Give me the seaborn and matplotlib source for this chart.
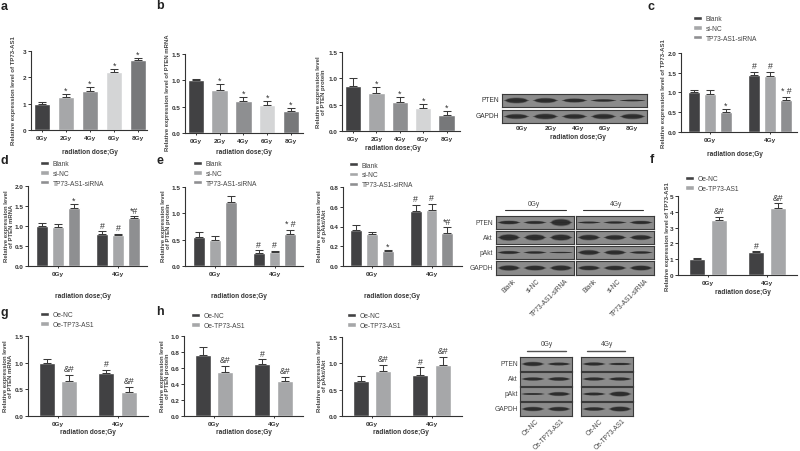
import numpy as np
import pandas as pd
import matplotlib
matplotlib.use("Agg")
import matplotlib.pyplot as plt
from matplotlib.patches import Ellipse
import seaborn as sns

W, H = 800, 452
sns.set_theme(style="ticks")
plt.rcParams['font.family'] = ['Liberation Sans', 'DejaVu Sans']

# ---- data ----
doses5 = ["0Gy", "2Gy", "4Gy", "6Gy", "8Gy"]
doses2 = ["0Gy", "4Gy"]
groups3 = ["Blank", "si-NC", "TP73-AS1-siRNA"]
groups2 = ["Oe-NC", "Oe-TP73-AS1"]

a_vals = [1.0, 1.25, 1.5, 2.2, 2.65]
a_errs = [0.05, 0.1, 0.14, 0.13, 0.1]
a_marks = ["", "*", "*", "*", "*"]
b1_vals = [1.0, 0.82, 0.6, 0.53, 0.41]
b1_errs = [0.03, 0.11, 0.09, 0.08, 0.07]
b2_vals = [0.86, 0.72, 0.55, 0.43, 0.31]
b2_errs = [0.15, 0.12, 0.1, 0.08, 0.07]
b_marks = ["", "*", "*", "*", "*"]

c_vals = [1.0, 0.97, 0.5, 1.45, 1.42, 0.8]
c_errs = [0.06, 0.09, 0.07, 0.07, 0.1, 0.08]
c_marks = ["", "", "*", "#", "#", "* #"]
d_vals = [1.0, 0.97, 1.45, 0.8, 0.78, 1.19]
d_errs = [0.08, 0.08, 0.11, 0.07, 0.02, 0.05]
d_marks = ["", "", "*", "#", "#", "*#"]
e1_vals = [0.56, 0.49, 1.22, 0.25, 0.26, 0.6]
e1_errs = [0.08, 0.08, 0.1, 0.05, 0.03, 0.09]
e1_marks = ["", "", "", "#", "#", "* #"]
e2_vals = [0.36, 0.32, 0.15, 0.56, 0.57, 0.33]
e2_errs = [0.06, 0.02, 0.01, 0.06, 0.06, 0.06]
e2_marks = ["", "", "*", "#", "#", "*#"]

f_vals = [1.0, 3.45, 1.45, 4.25]
f_errs = [0.05, 0.25, 0.05, 0.28]
g_vals = [1.0, 0.65, 0.8, 0.45]
g_errs = [0.07, 0.12, 0.06, 0.1]
h1_vals = [0.76, 0.55, 0.65, 0.44]
h1_errs = [0.1, 0.08, 0.06, 0.05]
h2_vals = [0.66, 0.85, 0.78, 0.97]
h2_errs = [0.1, 0.12, 0.145, 0.15]
oe_marks = ["", "&#", "#", "&#"]

a_ticks = [0, 1, 2, 3]
t15 = [0.0, 0.5, 1.0, 1.5]
t20 = [0.0, 0.5, 1.0, 1.5, 2.0]
t08 = [0.0, 0.2, 0.4, 0.6, 0.8]
t10 = [0.0, 0.2, 0.4, 0.6, 0.8, 1.0]
t5 = [0, 1, 2, 3, 4, 5]

pal5 = ["#414143", "#a6a7a9", "#8e8f91", "#d4d5d6", "#77787a"]
pal3 = ["#414143", "#a6a7a9", "#8e8f91"]
pal2 = ["#414143", "#a6a7a9"]

# blot band thickness per row, per lane
b_blot = {"PTEN": [.36, .32, .26, .16, .1], "GAPDH": [.32, .36, .32, .34, .34]}
e_blot = {"PTEN": [.24, .2, .46, .12, .15, .22], "Akt": [.42, .4, .4, .36, .32, .32],
          "pAkt": [.2, .16, .07, .32, .3, .16], "GAPDH": [.32, .3, .32, .28, .28, .3]}
h_blot = {"PTEN": [.26, .18, .2, .14], "Akt": [.2, .22, .2, .2],
          "pAkt": [.1, .24, .18, .3], "GAPDH": [.26, .26, .22, .3]}

TXT = "#333333"
fig = plt.figure(figsize=(W / 100, H / 100), dpi=100, facecolor="white")


def ftext(x, y, s, **kw):
    kw.setdefault("ha", "center")
    kw.setdefault("va", "center")
    kw.setdefault("color", TXT)
    fig.text(x / W, 1 - y / H, s, **kw)


def px_axes(x0, x1, ybot, ytop):
    return fig.add_axes([x0 / W, 1 - ybot / H, (x1 - x0) / W, (ybot - ytop) / H])


def panel(box, c0, step, cats, vals, errs, marks, ticks, ylim, ylab, ylab_xy, xlab_xy,
          hues=None, pal=None, width=.7, gap=0, capsize=2.7, legend_xy=None, fmt="%.1f"):
    ax = px_axes(*box)
    if hues is None:
        df = pd.DataFrame({"x": cats, "y": vals})
        sns.barplot(df, x="x", y="y", hue="x", order=cats, palette=pal, width=width,
                    saturation=1, errorbar=None, legend=False, ax=ax)
    else:
        df = pd.DataFrame({"x": np.repeat(cats, len(hues)), "h": hues * len(cats), "y": vals})
        sns.barplot(df, x="x", y="y", hue="h", order=cats, hue_order=hues, palette=pal,
                    width=width, gap=gap, saturation=1, errorbar=None, ax=ax)
    bars = sorted((b for c in ax.containers for b in c), key=lambda p: p.get_x())
    xs = [p.get_x() + p.get_width() / 2 for p in bars]
    ys = [p.get_height() for p in bars]
    ax.errorbar(xs, ys, yerr=[np.zeros(len(errs)), errs], fmt="none", ecolor="#3a3a3a",
                elinewidth=.75, capsize=capsize, capthick=.75, clip_on=False)
    for x, y, e, m in zip(xs, ys, errs, marks):
        if m:
            ax.annotate(m, (x, y + e), xytext=(0, 1.2 if m != "*" else -.5), textcoords="offset points",
                        ha="center", va="bottom", fontsize=6.3, color=TXT, annotation_clip=False)
    ax.set_xlim((box[0] - c0) / step, (box[1] - c0) / step)
    ax.set_ylim(ylim)
    ax.set_yticks(ticks)
    ax.set_yticklabels([fmt % t for t in ticks])
    ax.set_xlabel("")
    ax.set_ylabel("")
    sns.despine(ax=ax)
    for s in ("left", "bottom"):
        ax.spines[s].set_linewidth(.8)
        ax.spines[s].set_color("#333333")
    ax.tick_params(axis="y", length=2.2, width=.7, pad=1, labelsize=4.6, color="#333333", labelcolor=TXT)
    ax.tick_params(axis="x", length=1.5, width=.7, pad=2.2, labelsize=4.6, color="#333333", labelcolor=TXT)
    for t in ax.get_xticklabels() + ax.get_yticklabels():
        t.set_fontweight("bold")
    ax.patch.set_alpha(0)
    ftext(ylab_xy[0], ylab_xy[1], ylab, rotation=90, fontsize=4.3, fontweight="bold",
          linespacing=1.2, color="#444444")
    ftext(xlab_xy[0], xlab_xy[1], "radiation dose;Gy", fontsize=4.7, fontweight="bold")
    if legend_xy is not None:
        sns.move_legend(ax, "upper left", bbox_to_anchor=(legend_xy[0] / W, 1 - legend_xy[1] / H),
                        bbox_transform=fig.transFigure, frameon=False, title=None, fontsize=4.8,
                        handlelength=1.4, handleheight=.6, handletextpad=.5, labelspacing=.42,
                        borderpad=0, borderaxespad=0, labelcolor="#444444")
    return ax


def blot(box, rows_px, table, row_order):
    """Each row is a framed gel strip; each band is drawn from its thickness."""
    for (yt, yb), name in zip(rows_px, row_order):
        vals = table[name]
        ax = px_axes(box[0], box[1], yb, yt)
        ax.set_facecolor("#8b8b8b")
        ax.set_xlim(-.5, len(vals) - .5)
        ax.set_ylim(-.5, .5)
        ax.set_xticks([])
        ax.set_yticks([])
        for s in ax.spines.values():
            s.set_linewidth(.8)
            s.set_color("#3a3a3a")
        for i, v in enumerate(vals):
            ax.add_patch(Ellipse((i, 0), .9, .1, facecolor="#333333", edgecolor="none", alpha=.8))
            ax.add_patch(Ellipse((i, 0), .8, v * 1.3, facecolor="#2a2a2a", edgecolor="none", alpha=.35))
            ax.add_patch(Ellipse((i, 0), .72, v, facecolor="#2a2a2a", edgecolor="none", alpha=.9))


# ---- panels a, b ----
panel((31, 147, 131, 52), 42, 24, doses5, a_vals, a_errs, a_marks, a_ticks, (0, 3),
      "Relative expression level of TP73-AS1", (14, 91), (90, 152), pal=pal5, fmt="%d", capsize=3.2)
panel((185, 303, 134, 55), 196, 23.7, doses5, b1_vals, b1_errs, b_marks, t15, (0, 1.5),
      "Relative expression level of PTEN mRNA", (168, 93), (244, 152), pal=pal5, capsize=3.2)
panel((342, 460, 132, 52.7), 353, 23.4, doses5, b2_vals, b2_errs, b_marks, t15, (0, 1.5),
      "Relative expression level\nof PTEN protein", (321, 92), (393, 148), pal=pal5, capsize=3.2)

blot((502, 647), [(95, 108), (111, 124)], b_blot, ["PTEN", "GAPDH"])
for name, y in (("PTEN", 101), ("GAPDH", 117)):
    ftext(499, y, name, ha="right", fontsize=4.8)
for name, x in zip(doses5, (522, 551, 578, 605, 632)):
    ftext(x, 128.5, name, fontsize=4.6, fontweight="bold")
ftext(578, 137.5, "radiation dose;Gy", fontsize=4.7, fontweight="bold")

# ---- panels c, d, e ----
panel((681, 797, 133, 53.7), 710, 60, doses2, c_vals, c_errs, c_marks, t20, (0, 2),
      "Relative expression level of TP73-AS1", (663, 94), (735, 155), hues=groups3, pal=pal3,
      width=.8, gap=.25, legend_xy=(693, 16))
panel((28, 147, 267, 187), 58, 60, doses2, d_vals, d_errs, d_marks, t20, (0, 2),
      "Relative expression level\nof PTEN mRNA", (9, 226), (83, 297), hues=groups3, pal=pal3,
      width=.8, gap=.25, legend_xy=(40, 161))
panel((185, 303, 267, 188), 215, 59.5, doses2, e1_vals, e1_errs, e1_marks, t15, (0, 1.5),
      "Relative expression level\nof PTEN protein", (166, 226), (239, 297), hues=groups3, pal=pal3,
      width=.8, gap=.25, legend_xy=(193, 161))
panel((343, 462, 267, 188), 372, 59.5, doses2, e2_vals, e2_errs, e2_marks, t08, (0, .8),
      "Relative expression level\nof pAkt/Akt", (322, 226), (392, 297), hues=groups3, pal=pal3,
      width=.8, gap=.25, legend_xy=(349, 162.5))

e_rows = [(217, 230), (232, 245), (247, 260), (262, 276)]
e_order = ["PTEN", "Akt", "pAkt", "GAPDH"]
blot((496, 574), e_rows, {k: v[:3] for k, v in e_blot.items()}, e_order)
blot((576, 654), e_rows, {k: v[3:] for k, v in e_blot.items()}, e_order)
for name, (yt, yb) in zip(e_order, e_rows):
    ftext(493, (yt + yb) / 2, name, ha="right", fontsize=4.8, color="#444444")
ftext(534, 204, "0Gy", fontsize=4.8, color="#444444")
ftext(616, 204, "4Gy", fontsize=4.8, color="#444444")
fig.add_artist(plt.Line2D([505 / W, 566 / W], [1 - 211 / H] * 2, color="#333333", lw=.8))
fig.add_artist(plt.Line2D([583 / W, 643 / W], [1 - 211 / H] * 2, color="#333333", lw=.8))
for name, x in zip(groups3 + groups3, (512, 537, 565, 593, 618, 645)):
    ftext(x, 278, name, rotation=45, ha="right", va="top", rotation_mode="anchor", fontsize=4.7, color="#444444")

# ---- panels f, g, h ----
panel((678, 797, 276, 197), 708, 59, doses2, f_vals, f_errs, oe_marks, t5, (0, 5),
      "Relative expression level of TP73-AS1", (667, 237), (743, 293), hues=groups2, pal=pal2,
      width=.75, gap=.27, capsize=3, legend_xy=(685, 176), fmt="%d")
panel((28, 148, 417, 337), 58, 59.5, doses2, g_vals, g_errs, oe_marks, t15, (0, 1.5),
      "Relative expression level\nof PTEN mRNA", (8, 376), (88, 433), hues=groups2, pal=pal2,
      width=.75, gap=.27, capsize=3, legend_xy=(40, 312))
panel((184, 303, 417, 337), 214, 59.5, doses2, h1_vals, h1_errs, oe_marks, t10, (0, 1),
      "Relative expression level\nof PTEN protein", (165, 376), (244, 433), hues=groups2, pal=pal2,
      width=.75, gap=.27, capsize=3, legend_xy=(191, 313))
panel((342, 462, 417, 338), 372, 59.5, doses2, h2_vals, h2_errs, oe_marks, t15, (0, 1.5),
      "Relative expression level\nof pAkt/Akt", (322, 376), (401, 433), hues=groups2, pal=pal2,
      width=.75, gap=.27, capsize=3, legend_xy=(347, 313))

h_rows = [(358, 372), (373, 387), (388, 402), (403, 417)]
blot((520, 572), h_rows, {k: v[:2] for k, v in h_blot.items()}, e_order)
blot((581, 633), h_rows, {k: v[2:] for k, v in h_blot.items()}, e_order)
for name, (yt, yb) in zip(e_order, h_rows):
    ftext(518, (yt + yb) / 2, name, ha="right", fontsize=4.8, color="#444444")
ftext(547, 345, "0Gy", fontsize=4.8, color="#444444")
ftext(607, 345, "4Gy", fontsize=4.8, color="#444444")
fig.add_artist(plt.Line2D([527 / W, 566 / W], [1 - 352 / H] * 2, color="#555555", lw=1))
fig.add_artist(plt.Line2D([587 / W, 625 / W], [1 - 352 / H] * 2, color="#555555", lw=1))
for name, x in zip(groups2 + groups2, (535, 561, 599, 622)):
    ftext(x, 418, name, rotation=45, ha="right", va="top", rotation_mode="anchor", fontsize=4.7, color="#444444")

# ---- panel letters ----
for s, x, y in (("a", 4, 7), ("b", 160, 6), ("c", 651, 7), ("d", 4, 161), ("e", 160, 161),
                ("f", 652, 160), ("g", 4, 313), ("h", 160, 312)):
    ftext(x, y, s, fontsize=9, fontweight="bold", color="#222222")

fig.savefig("out.png", dpi=100, facecolor="white")
